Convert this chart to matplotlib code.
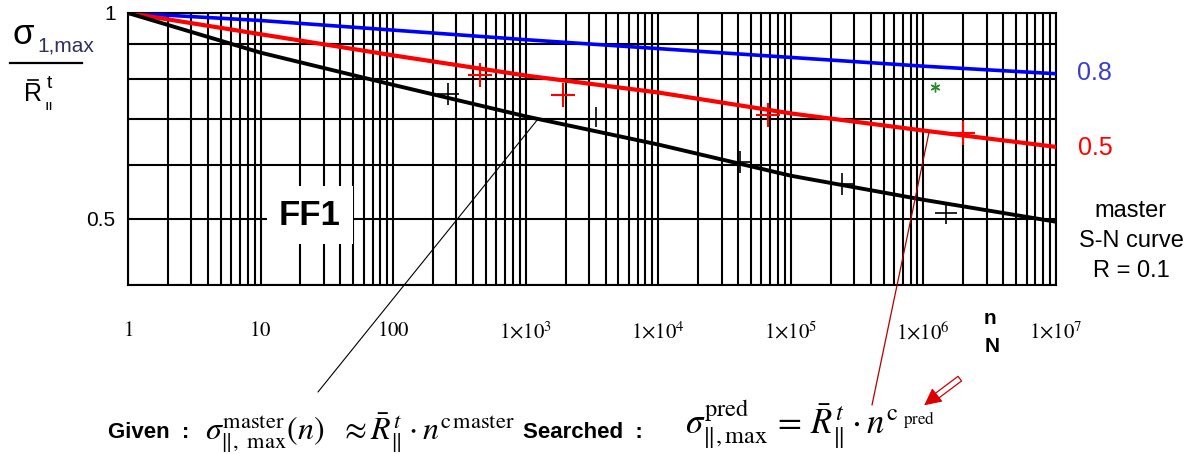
import numpy as np
import matplotlib
matplotlib.use("Agg")
import matplotlib.pyplot as plt
from matplotlib.lines import Line2D

# ---------------- data ----------------
n_cycles = [1, 10, 100, 1e3, 1e4, 1e5, 1e6, 1e7]
master_R01 = [1.0, 0.875, 0.785, 0.706, 0.642, 0.578, 0.533, 0.495]
pred_R05 = [1.0, 0.931, 0.867, 0.810, 0.765, 0.713, 0.673, 0.637]
pred_R08 = [1.0, 0.975, 0.944, 0.914, 0.887, 0.861, 0.836, 0.815]

test_master_n = [259, 41200, 242600, 1.475e6]
test_master_s = [0.761, 0.606, 0.562, 0.510]
test_master_bar_n = [3390]
test_master_bar_s = [0.705]
test_R05_n = [452, 1906, 67100, 1.98e6]
test_R05_s = [0.811, 0.759, 0.710, 0.668]
test_R08_n = [1.22e6]
test_R08_s = [0.779]

x_ticks = [1, 10, 100, 1e3, 1e4, 1e5, 1e6, 1e7]
x_tick_labels = [r'$1$', r'$10$', r'$100$', r'$1{\times}10^{3}$', r'$1{\times}10^{4}$',
                 r'$1{\times}10^{5}$', r'$1{\times}10^{6}$', r'$1{\times}10^{7}$']
y_ticks = [1.0, 0.5]
y_tick_labels = ['1', '0.5']
y_grid = [0.4, 0.5, 0.6, 0.7, 0.8, 0.9, 1.0]

# ---------------- figure ----------------
W, H = 1199, 454
plt.rcParams['mathtext.fontset'] = 'stix'
plt.rcParams['font.family'] = ['Liberation Sans', 'DejaVu Sans']
fig = plt.figure(figsize=(W / 100, H / 100), dpi=100)
fig.patch.set_facecolor('white')


def fx(px):
    return px / W


def fy(py):
    return 1 - py / H


ax = fig.add_axes([fx(128), fy(285), fx(1056) - fx(128), fy(13) - fy(285)])
ax.set_xscale('log')
ax.set_yscale('log')
ax.set_xlim(1, 1e7)
ax.set_ylim(0.4, 1.0)

gw = 1.5
ax.set_xticks(x_ticks)
ax.set_xticklabels(x_tick_labels, fontsize=15)
ax.xaxis.set_minor_locator(matplotlib.ticker.LogLocator(base=10, subs=np.arange(2, 10)))
ax.xaxis.set_minor_formatter(matplotlib.ticker.NullFormatter())
ax.set_yticks(y_grid, minor=True)
ax.set_yticks(y_ticks)
ax.set_yticklabels(y_tick_labels, fontsize=15)
ax.yaxis.set_minor_formatter(matplotlib.ticker.NullFormatter())
ax.tick_params(axis='both', which='both', length=0)
ax.tick_params(axis='x', pad=26)
ax.tick_params(axis='y', pad=9)
ax.grid(True, which='both', color='black', linewidth=gw)
for s in ax.spines.values():
    s.set_linewidth(gw)
ax.set_axisbelow(True)

# curves
ax.plot(n_cycles, pred_R08, color='#0000ff', lw=2.6, zorder=3)
ax.plot(n_cycles, pred_R05, color='#ff0000', lw=3.0, zorder=3)
ax.plot(n_cycles, master_R01, color='black', lw=2.8, zorder=3)

# test points
ax.plot(test_master_n, test_master_s, ls='none', marker='+', ms=16, mew=1.2, color='black', zorder=4)
ax.plot(test_master_bar_n, test_master_bar_s, ls='none', marker='|', ms=14, mew=1.2, color='black', zorder=4)
ax.plot(test_R05_n, test_R05_s, ls='none', marker='+', ms=17, mew=1.5, color='#ff0000', zorder=4)
ax.plot(test_R08_n, test_R08_s, ls='none', marker=(6, 2, 0), ms=7, mew=1.0, color='#2a8a2a', zorder=4)

# FF1 label
ax.text(23.6, 0.506, 'FF1', fontsize=25, fontweight='bold', ha='center', va='center',
        bbox=dict(facecolor='white', edgecolor='none', pad=9), zorder=5)

# annotation lines
ax.annotate('', xy=(1240, 0.70), xycoords='data', xytext=(318, H - 392),
            textcoords='figure pixels', annotation_clip=False,
            arrowprops=dict(arrowstyle='-', color='black', lw=0.8, shrinkA=0, shrinkB=0))
ax.annotate('', xy=(1.1e6, 0.668), xycoords='data', xytext=(872, H - 405),
            textcoords='figure pixels', annotation_clip=False,
            arrowprops=dict(arrowstyle='-', color='#b00000', lw=0.9, shrinkA=0, shrinkB=0))

# right labels
fig.text(fx(1094), fy(73), '0.8', color='#3b3bd0', fontsize=18, ha='center', va='center')
fig.text(fx(1095), fy(148), '0.5', color='#ff0000', fontsize=18, ha='center', va='center')
fig.text(fx(1131), fy(241), 'master\nS-N curve\nR = 0.1', color='black', fontsize=17,
         ha='center', va='center', linespacing=1.45)

# n / N axis label
fig.text(fx(990), fy(318), 'n', fontsize=15, fontweight='bold', ha='center', va='center')
fig.text(fx(992), fy(346), 'N', fontsize=15, fontweight='bold', ha='center', va='center')

# y-axis label (fraction)
fig.text(fx(23), fy(35), 'σ', fontsize=25, ha='center', va='center')
fig.text(fx(37), fy(46), '1,max', fontsize=15, color='#303060', ha='left', va='center')
fig.add_artist(Line2D([fx(10), fx(82)], [fy(63), fy(63)], color='black', lw=1.6))
fig.text(fx(33), fy(94), 'R', fontsize=18, ha='center', va='center')
fig.add_artist(Line2D([fx(28), fx(38)], [fy(80), fy(80)], color='black', lw=1.2))
fig.text(fx(49), fy(83), 't', fontsize=14, ha='center', va='center')
fig.text(fx(49), fy(106), 'ıı', fontsize=11, ha='center', va='center')

# formula line
fig.text(fx(108), fy(438), 'Given  :', fontsize=16, fontweight='bold', ha='left', va='baseline')
fig.text(fx(205), fy(440),
         r'$\sigma^{\mathrm{master}}_{\Vert,\ \mathrm{max}}(n)\ \ \approx \bar{R}^{\,t}_{\Vert}\cdot n^{\mathrm{c}\,\mathrm{master}}$',
         fontsize=23, ha='left', va='baseline')
fig.text(fx(523), fy(438), 'Searched  :', fontsize=16, fontweight='bold', ha='left', va='baseline')
fig.text(fx(685), fy(451),
         r'$\sigma^{\mathrm{pred}}_{\Vert,\mathrm{max}}\,=\,\bar{R}^{\,t}_{\Vert}\cdot n^{\mathrm{c\ }_{\mathrm{pred}}}$',
         fontsize=25, ha='left', va='bottom')

# red double arrow
fig.add_artist(matplotlib.patches.FancyArrowPatch(
    (962, H - 377), (930, H - 401), transform=None,
    arrowstyle='simple,head_length=0.01,head_width=0.01,tail_width=0.35',
    mutation_scale=12, fc='white', ec='#cc0000', lw=0.9))
fig.add_artist(matplotlib.patches.FancyArrowPatch(
    (936, H - 396), (922, H - 407), transform=None,
    arrowstyle='-|>,head_length=0.9,head_width=0.45', mutation_scale=12,
    fc='#dd0000', ec='#dd0000', lw=0.8))

fig.savefig('out.png', dpi=100, facecolor='white')
